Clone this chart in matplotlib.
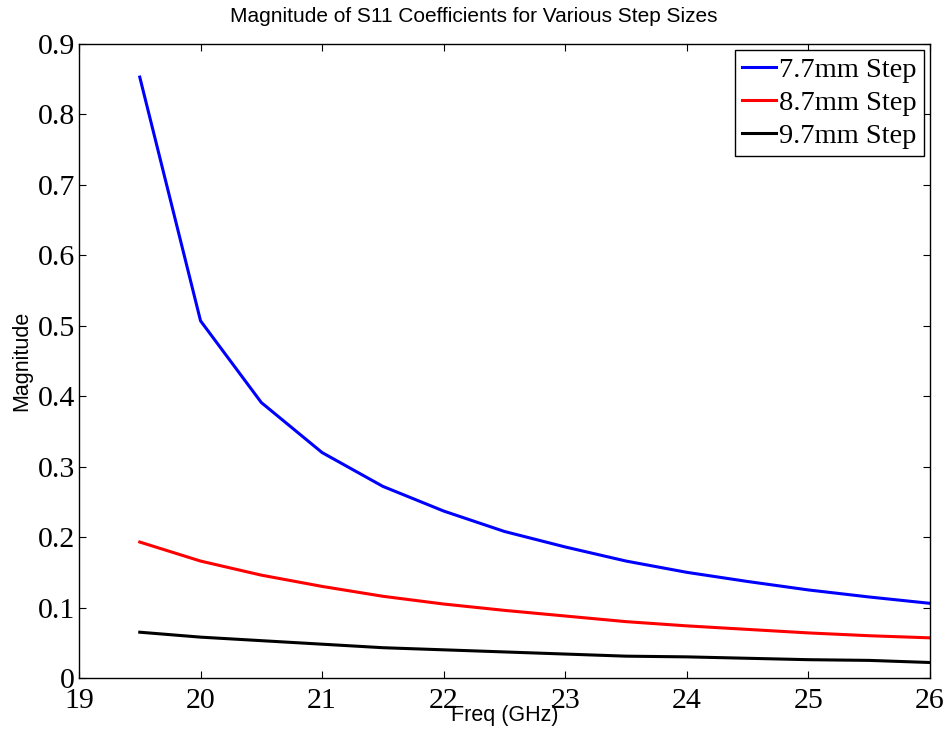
import numpy as np
import matplotlib
matplotlib.use("Agg")
import matplotlib.pyplot as plt

freq = [19.5, 20, 20.5, 21, 21.5, 22, 22.5, 23, 23.5, 24, 24.5, 25, 25.5, 26]
s11_77 = [0.853, 0.507, 0.391, 0.320, 0.272, 0.237, 0.208, 0.186, 0.166, 0.150, 0.137, 0.125, 0.115, 0.106]
s11_87 = [0.193, 0.166, 0.146, 0.130, 0.116, 0.105, 0.096, 0.088, 0.080, 0.074, 0.069, 0.064, 0.060, 0.057]
s11_97 = [0.065, 0.058, 0.053, 0.048, 0.043, 0.040, 0.037, 0.034, 0.031, 0.030, 0.028, 0.026, 0.025, 0.022]
labels = ["7.7mm Step", "8.7mm Step", "9.7mm Step"]

fig = plt.figure(figsize=(9.47, 7.38), dpi=100)
ax = fig.add_axes([0.0834, 0.0813, 0.8986, 0.8591])

ax.plot(freq, s11_77, color="blue", lw=2.2, label=labels[0])
ax.plot(freq, s11_87, color="red", lw=2.2, label=labels[1])
ax.plot(freq, s11_97, color="black", lw=2.2, label=labels[2])

ax.set_xlim(19, 26)
ax.set_ylim(0, 0.9)
ax.set_xticks(np.arange(19, 27, 1))
ax.set_yticks(np.arange(0, 0.91, 0.1))
ax.set_yticklabels(["0"] + ["%.1f" % v for v in np.arange(0.1, 0.91, 0.1)])
ax.tick_params(direction="in", top=True, right=True, length=5, width=0.8,
               labelsize=21.5)
ax.tick_params(axis="x", pad=7)
ax.tick_params(axis="y", pad=3)
for lab in ax.get_xticklabels() + ax.get_yticklabels():
    lab.set_family("Liberation Serif")
for s in ax.spines.values():
    s.set_linewidth(1.0)

# MATLAB put the title over the figure centre, not the axes centre
fig.text(0.5, 0.978, "Magnitude of S11 Coefficients for Various Step Sizes",
         family="Liberation Sans", fontsize=15, ha="center", va="center")
ax.set_xlabel("Freq (GHz)", family="Liberation Sans", fontsize=15.5)
ax.set_ylabel("Magnitude", family="Liberation Sans", fontsize=15.5)
ax.xaxis.set_label_coords(0.5, -0.043)
ax.yaxis.set_label_coords(-0.055, 0.5)

leg = ax.legend(loc="upper right", bbox_to_anchor=(0.993, 0.9905),
                prop={"family": "Liberation Serif", "size": 20.5},
                frameon=True, fancybox=False, edgecolor="black", framealpha=1,
                borderpad=0.25, labelspacing=0.25, handlelength=1.2,
                handletextpad=0.1, borderaxespad=0.0)
leg.get_frame().set_linewidth(1.0)

fig.savefig("out.png", dpi=100)
